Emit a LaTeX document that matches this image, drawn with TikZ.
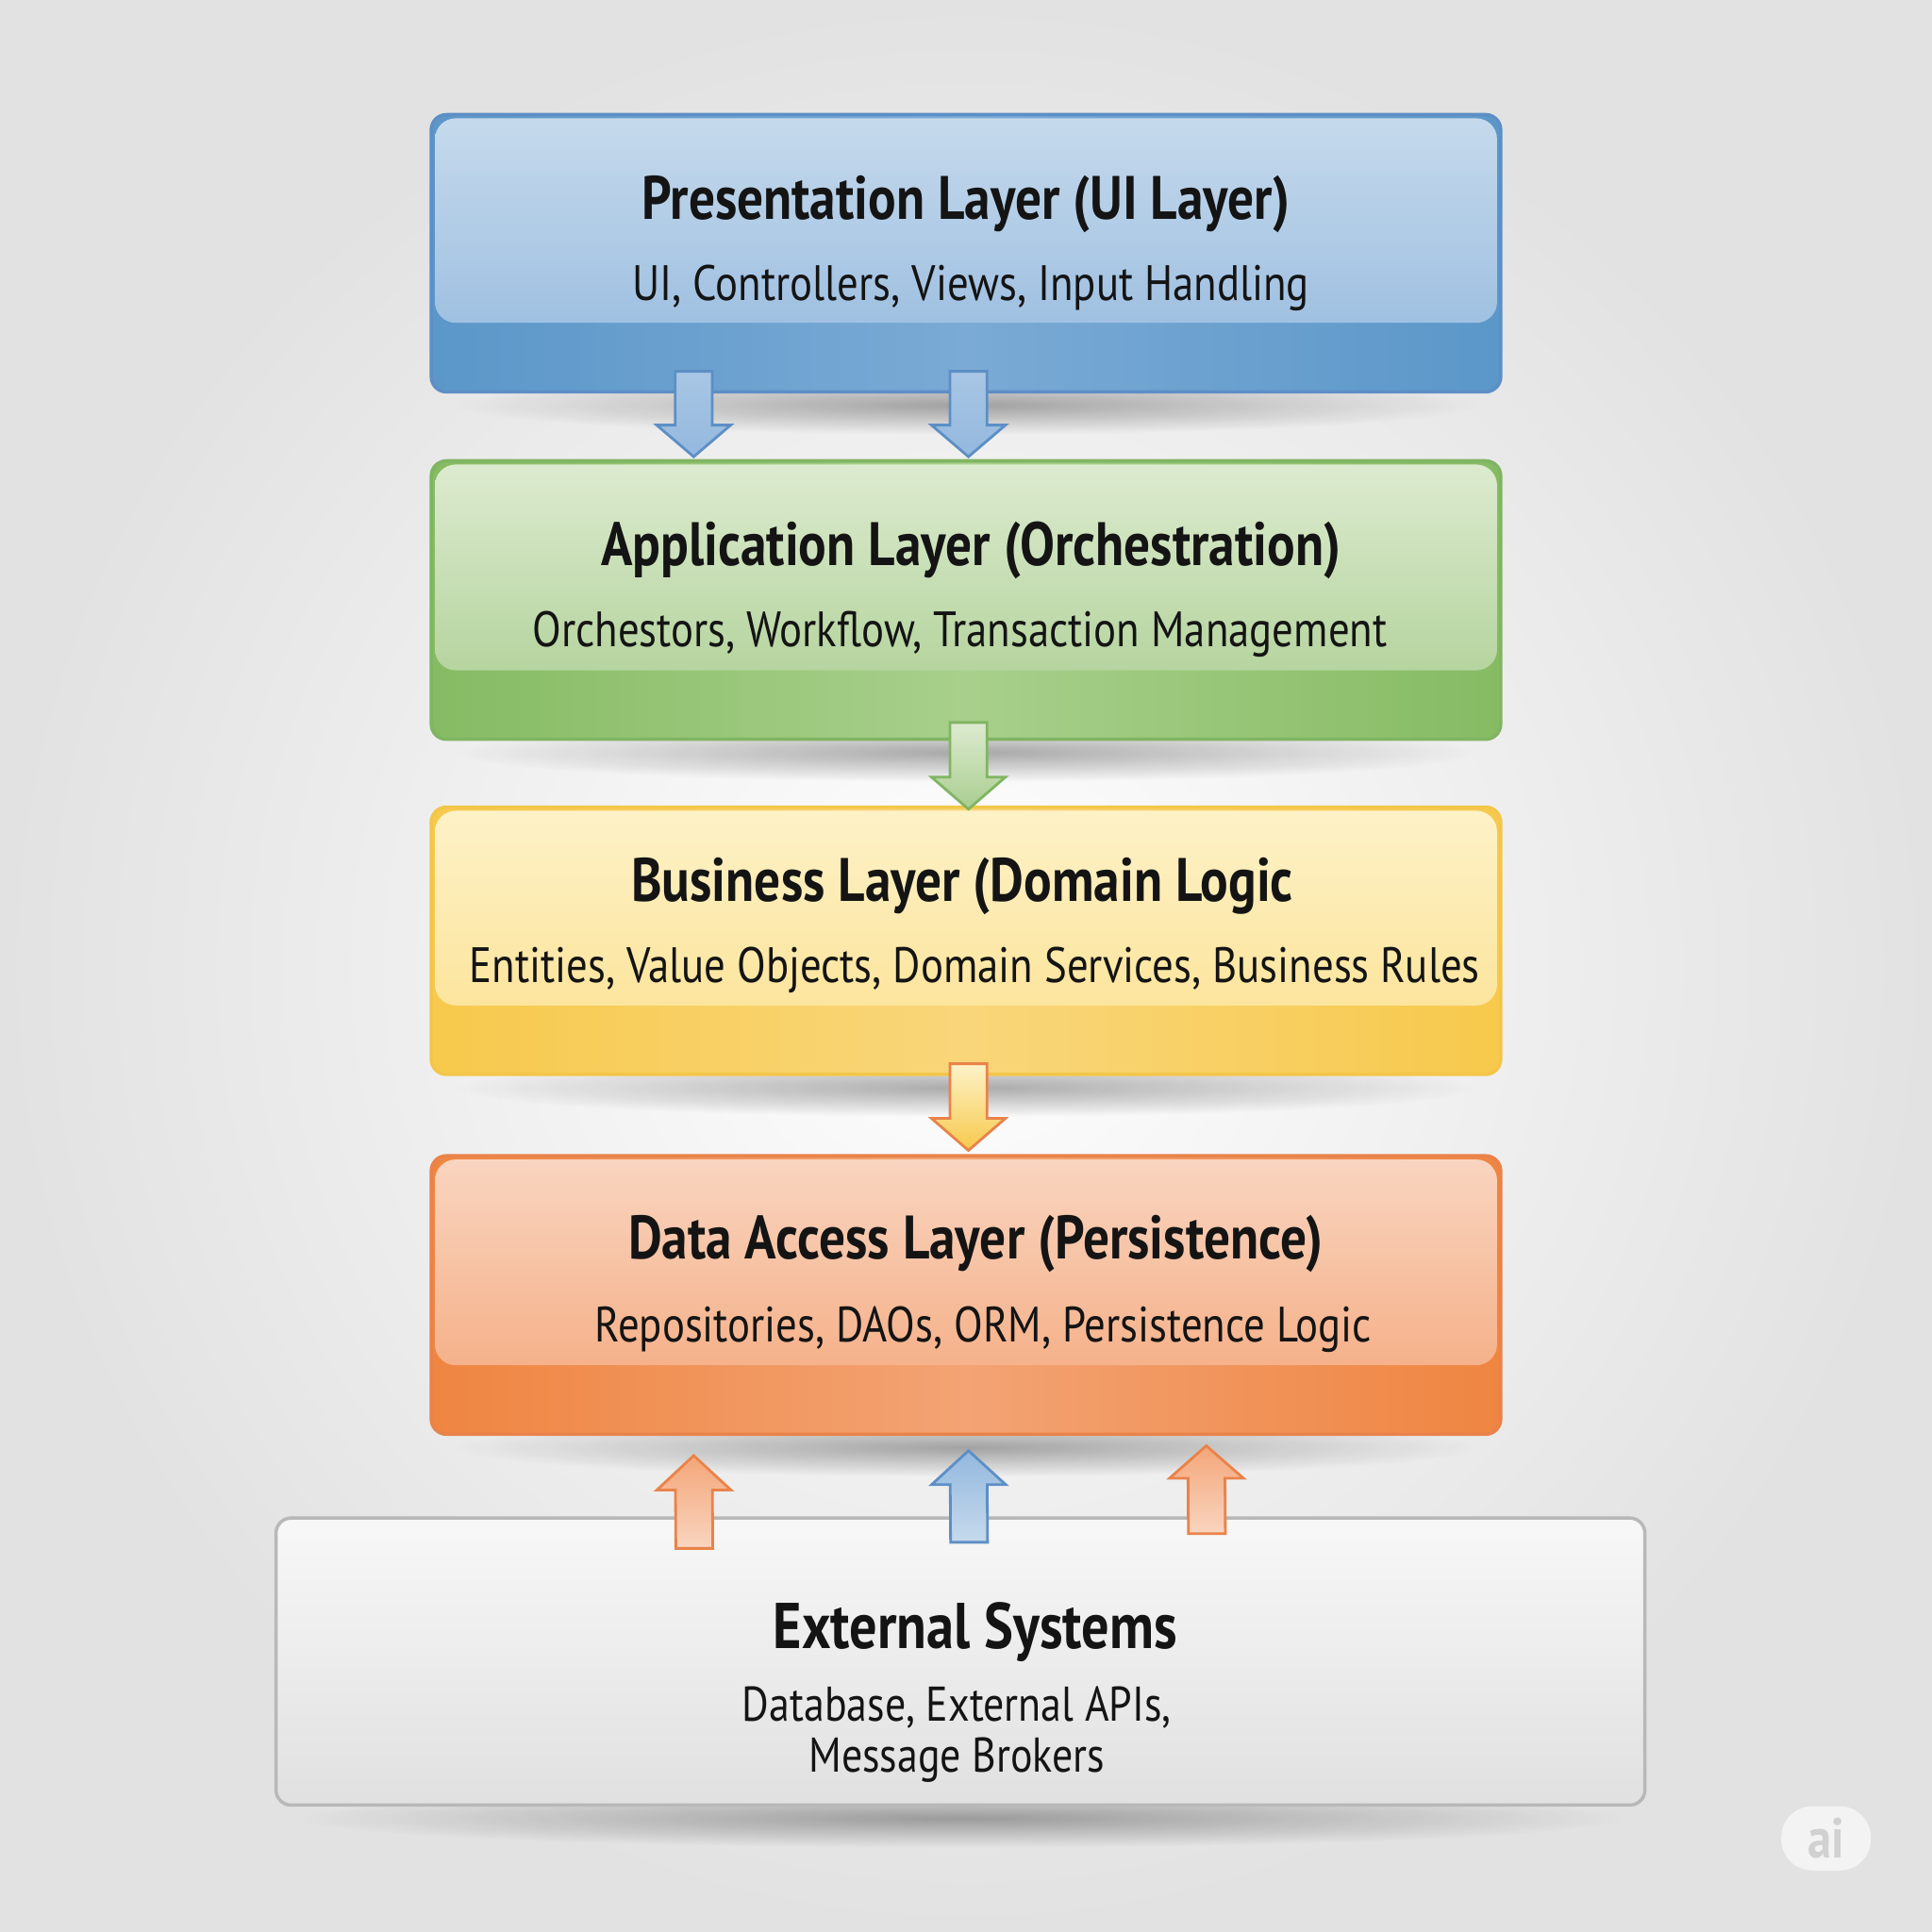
\documentclass[tikz,border=0pt]{standalone}
\usepackage{fontspec}
\setmainfont[FakeStretch=0.85]{PT Sans}
\usepackage{tikz}
\usetikzlibrary{calc,fadings}

\definecolor{bgout}{HTML}{E2E2E2}
\definecolor{ink}{HTML}{141414}
% layer colours: border, panel top, panel bottom, band, band glow
\definecolor{presB}{HTML}{5D8FC5}\definecolor{presT}{HTML}{C6DAEC}\definecolor{presP}{HTML}{93B8DE}
\definecolor{presD}{HTML}{5B97C9}\definecolor{presG}{HTML}{7AAAD5}
\definecolor{appB}{HTML}{80B562}\definecolor{appT}{HTML}{DDEBD0}\definecolor{appP}{HTML}{A9CD8F}
\definecolor{appD}{HTML}{86BB63}\definecolor{appG}{HTML}{A8D08C}
\definecolor{bizB}{HTML}{F3C64A}\definecolor{bizT}{HTML}{FDF2C8}\definecolor{bizP}{HTML}{FBE08E}
\definecolor{bizD}{HTML}{F7C94C}\definecolor{bizG}{HTML}{F9D67A}
\definecolor{dalB}{HTML}{E9834A}\definecolor{dalT}{HTML}{F9D5C0}\definecolor{dalP}{HTML}{F4A679}
\definecolor{dalD}{HTML}{EF8541}\definecolor{dalG}{HTML}{F3A374}
\definecolor{extB}{HTML}{B8B8B8}

\tikzfading[name=shadefade, inner color=transparent!0, outer color=transparent!100]

\tikzset{
  layer/.style n args={5}{draw=#1, line width=1pt, rounded corners=0.16cm,
    left color=#4, right color=#4, middle color=#5,
    minimum width=11.337cm, inner sep=0pt,
    path picture={\shade[draw=none, top color=#2, bottom color=#3, rounded corners=0.22cm]
      ([shift={(3,3)}]path picture bounding box.north west) rectangle
      ([shift={(-3,-56)}]path picture bounding box.south east);}},
  ttl/.style={text=ink, font=\bfseries\fontsize{18.5}{22}\selectfont},
  sub/.style={text=ink, font=\fontsize{15}{15.6}\selectfont, align=center},
  blk/.style n args={3}{draw=#1, line width=0.8pt, top color=#2, bottom color=#3},
  shadow/.style={fill=black, opacity=0.32, path fading=shadefade},
}

\newcommand\blockarrow[3]{%
  \draw[#1] ($(#2)+(-15,0)$) -- ($(#3)!0.37!(#2)+(-15,0)$) -- ($(#3)!0.37!(#2)+(-30,0)$) -- (#3)
    -- ($(#3)!0.37!(#2)+(30,0)$) -- ($(#3)!0.37!(#2)+(15,0)$) -- ($(#2)+(15,0)$) -- cycle;}
\newcommand\boxshadow[1]{%
  \fill[shadow] ($(#1.south west)+(20,-14)$) rectangle ($(#1.south east)+(-20,34)$);}

\begin{document}
\begin{tikzpicture}[x=0.013061cm, y=-0.013061cm]
\useasboundingbox (0,0) rectangle (1568,1568);
\shade[inner color=white, outer color=bgout] (0,0) rectangle (1568,1568);

% layers
\coordinate (presc) at (784,205.5);
\coordinate (appc) at (784,487);
\coordinate (bizc) at (784,763.5);
\coordinate (dalc) at (784,1051);
\coordinate (extc) at (779.5,1348.5);
\path (presc) node[minimum width=11.337cm, minimum height=2.939cm] (presS) {}
      (appc) node[minimum width=11.337cm, minimum height=2.952cm] (appS) {}
      (bizc) node[minimum width=11.337cm, minimum height=2.834cm] (bizS) {}
      (dalc) node[minimum width=11.337cm, minimum height=2.952cm] (dalS) {}
      (extc) node[minimum width=14.511cm, minimum height=3.043cm] (extS) {};
\foreach \s in {presS,appS,bizS,dalS,extS} {\boxshadow{\s}}

\node[layer={presB}{presT}{presP}{presD}{presG}, minimum height=2.939cm] (pres) at (presc) {};
\node[layer={appB}{appT}{appP}{appD}{appG}, minimum height=2.952cm] (app) at (appc) {};
\node[layer={bizB}{bizT}{bizP}{bizD}{bizG}, minimum height=2.834cm] (biz) at (bizc) {};
\node[layer={dalB}{dalT}{dalP}{dalD}{dalG}, minimum height=2.952cm] (dal) at (dalc) {};
\node[draw=extB, line width=1pt, rounded corners=0.16cm, top color=black!3, bottom color=black!12,
  minimum width=14.511cm, minimum height=3.043cm] (ext) at (extc) {};

% texts
\node[ttl] (pres-t) at ($(pres.north)+(0,74)$) {Presentation Layer (UI Layer)};
\node[sub] (pres-s) at ($(pres.north)+(4,142)$) {UI, Controllers, Views, Input Handling};
\node[ttl] (app-t) at ($(app.north)+(4,74)$) {Application Layer (Orchestration)};
\node[sub] (app-s) at ($(app.north)+(-5,142)$) {Orchestors, Workflow, Transaction Management};
\node[ttl] (biz-t) at ($(biz.north)+(-3,66)$) {Business Layer (Domain Logic};
\node[sub] (biz-s) at ($(biz.north)+(7,134)$) {Entities, Value Objects, Domain Services, Business Rules};
\node[ttl] (dal-t) at ($(dal.north)+(8,73)$) {Data Access Layer (Persistence)};
\node[sub] (dal-s) at ($(dal.north)+(14,142)$) {Repositories, DAOs, ORM, Persistence Logic};
\node[ttl, font=\bfseries\fontsize{19.5}{23}\selectfont] (ext-t) at ($(ext.north)+(12,94)$) {External Systems};
\node[sub, font=\fontsize{14.7}{15.6}\selectfont] (ext-s) at ($(ext.north)+(-3,177)$) {Database, External APIs,\\Message Brokers};

% connectors
\coordinate (pa1s) at ($(pres.south)+(-221,-18)$); \coordinate (pa1e) at ($(app.north)+(-221,-2)$);
\coordinate (pa2s) at ($(pres.south)+(2,-18)$);    \coordinate (pa2e) at ($(app.north)+(2,-2)$);
\coordinate (abs) at ($(app.south)+(2,-15)$);      \coordinate (abe) at ($(biz.north)+(2,3)$);
\coordinate (bds) at ($(biz.south)+(2,-10)$);      \coordinate (bde) at ($(dal.north)+(2,-3)$);
\coordinate (ed1s) at ($(ext.north)+(-216,26)$);   \coordinate (ed1e) at ($(dal.south)+(-221,16)$);
\coordinate (ed2s) at ($(ext.north)+(7,21)$);      \coordinate (ed2e) at ($(dal.south)+(2,12)$);
\coordinate (ed3s) at ($(ext.north)+(200,14)$);    \coordinate (ed3e) at ($(dal.south)+(195,8)$);

\blockarrow{blk={presB}{presP!80}{presP}}{pa1s}{pa1e}
\blockarrow{blk={presB}{presP!80}{presP}}{pa2s}{pa2e}
\blockarrow{blk={appB}{appT}{appP}}{abs}{abe}
\blockarrow{blk={dalB}{bizT}{bizD}}{bds}{bde}
\blockarrow{blk={dalB}{dalP}{dalT}}{ed1s}{ed1e}
\blockarrow{blk={presB}{presP}{presT}}{ed2s}{ed2e}
\blockarrow{blk={dalB}{dalP}{dalT}}{ed3s}{ed3e}

% badge
\node[fill=white, fill opacity=0.6, text opacity=1, text=black!18, rounded corners=0.33cm,
  minimum width=0.95cm, minimum height=0.68cm, font=\bfseries\fontsize{17}{17}\selectfont] (badge) at (1482,1492) {ai};
\end{tikzpicture}
\end{document}
